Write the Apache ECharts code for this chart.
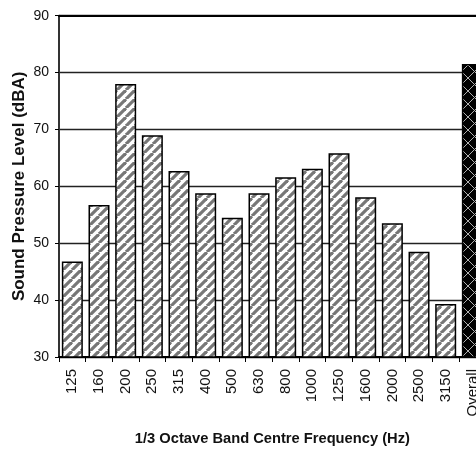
<!DOCTYPE html>
<html><head><meta charset="utf-8">
<script src="https://cdn.jsdelivr.net/npm/echarts@6/dist/echarts.min.js"></script>
<style>html,body{margin:0;padding:0;background:#fff;overflow:hidden}#c{width:490px;height:450px}</style>
</head><body><div id="c"></div>
<script>
// ---- data ----
const categories = ['125','160','200','250','315','400','500','630','800','1000','1250','1600','2000','2500','3150','Overall'];
const levels = [46.8, 56.7, 78.0, 69.0, 62.7, 58.8, 54.5, 58.8, 61.6, 63.1, 65.8, 58.1, 53.5, 48.5, 39.3, 81.5];
const yMin = 30, yMax = 90, yStep = 10;
const xTitle = '1/3 Octave Band Centre Frequency (Hz)';
const yTitle = 'Sound Pressure Level (dBA)';

// ---- patterns ----
function stripePattern() {
  const p = 9, c = document.createElement('canvas');
  c.width = p; c.height = p;
  const g = c.getContext('2d');
  g.fillStyle = '#fff'; g.fillRect(0, 0, p, p);
  g.strokeStyle = '#777'; g.lineWidth = 3.2;
  for (const k of [-p, 0, p]) {
    g.beginPath(); g.moveTo(k, p); g.lineTo(k + p, 0); g.stroke();
  }
  return c;
}
function crossPattern() {
  const p = 13, c = document.createElement('canvas');
  c.width = p; c.height = p;
  const g = c.getContext('2d');
  g.fillStyle = '#000'; g.fillRect(0, 0, p, p);
  g.strokeStyle = '#b0b0b0'; g.lineWidth = 1;
  g.beginPath(); g.moveTo(0, 0); g.lineTo(p, p); g.stroke();
  g.beginPath(); g.moveTo(p, 0); g.lineTo(0, p); g.stroke();
  return c;
}
const stripe = { image: stripePattern(), repeat: 'repeat' };
const cross = { image: crossPattern(), repeat: 'repeat' };

const barData = levels.map((v, i) => i === levels.length - 1
  ? { value: v, itemStyle: { color: cross } }
  : v);

const chart = echarts.init(document.getElementById('c'), null, { renderer: 'canvas' });
chart.setOption({
  animation: false,
  backgroundColor: '#fff',
  grid: { left: 59, top: 15.7, width: 426.7, height: 341.3, containLabel: false, outerBoundsMode: 'none' },
  xAxis: [{
    type: 'category',
    data: categories,
    position: 'bottom',
    axisLine: { lineStyle: { color: '#000', width: 2 } },
    axisTick: { show: true, length: 5, lineStyle: { color: '#000', width: 1 } },
    axisLabel: { rotate: 90, margin: 12, fontFamily: 'Liberation Sans', fontSize: 15, color: '#111' },
    name: xTitle,
    nameLocation: 'middle',
    nameGap: 74,
    nameMoveOverlap: false,
    nameTextStyle: { fontFamily: 'Liberation Sans', fontWeight: 'bold', fontSize: 14.7, color: '#111' }
  }, {
    type: 'category',
    data: categories,
    position: 'top',
    axisLine: { lineStyle: { color: '#000', width: 2 } },
    axisTick: { show: false },
    axisLabel: { show: false }
  }],
  yAxis: {
    type: 'value',
    min: yMin, max: yMax, interval: yStep,
    axisLine: { show: true, lineStyle: { color: '#333', width: 2 } },
    axisTick: { show: true, length: 4, lineStyle: { color: '#000' } },
    axisLabel: { margin: 10, fontFamily: 'Liberation Sans', fontSize: 14, color: '#111' },
    splitLine: { show: true, lineStyle: { color: '#222', width: 1.3 } },
    name: yTitle,
    nameLocation: 'middle',
    nameGap: 31,
    nameMoveOverlap: false,
    nameTextStyle: { fontFamily: 'Liberation Sans', fontWeight: 'bold', fontSize: 17, color: '#111' }
  },
  series: [{
    type: 'bar',
    data: barData,
    barWidth: 21,
    itemStyle: { color: stripe, borderColor: '#000', borderWidth: 1.5 }
  }]
});
</script></body></html>
